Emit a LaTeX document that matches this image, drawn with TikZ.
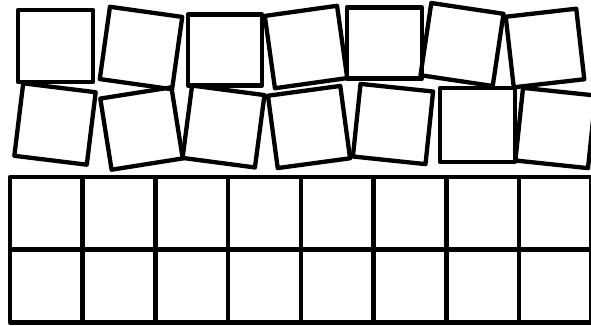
\documentclass[tikz,border=0pt]{standalone}
\usetikzlibrary{positioning}
\begin{document}
\begin{tikzpicture}[x=1pt,y=-1pt,node distance=72.7pt,every node/.style={inner sep=0pt}]
\tikzstyle{tile}=[draw,line width=4.3pt,line join=round,minimum size=73pt]
\tikzstyle{cell}=[draw,line width=4.6pt,line join=round,minimum size=72.7pt]
\useasboundingbox (0,0) rectangle (591,325);

% loose tiles, upper row
\node[tile,minimum width=75pt,minimum height=72pt](t00) at (55.5,46){};
\node[tile,rotate=-8](t01) at (141,48){};
\node[tile,minimum width=74pt,minimum height=71pt](t02) at (225,50){};
\node[tile,rotate=8](t03) at (306,47){};
\node[tile,minimum width=75pt,minimum height=71pt](t04) at (384.5,43){};
\node[tile,rotate=-8.5](t05) at (462,44.5){};
\node[tile,rotate=6.5,minimum size=71pt](t06) at (545,48){};

% loose tiles, lower row
\node[tile,rotate=-7](t10) at (55,124){};
\node[tile,rotate=9,minimum size=72pt](t11) at (141.5,128.5){};
\node[tile,rotate=-7.5](t12) at (223.5,126.5){};
\node[tile,rotate=7.7](t13) at (309,127){};
\node[tile,rotate=-6](t14) at (393,124){};
\node[tile,minimum width=75pt,minimum height=74pt](t15) at (477.5,125){};
\node[tile,rotate=-6](t16) at (555.5,128){};

% laid tiles
\node[cell](g00) at (46.35,213.35){};
\node[cell,right of=g00](g01){};
\node[cell,right of=g01](g02){};
\node[cell,right of=g02](g03){};
\node[cell,right of=g03](g04){};
\node[cell,right of=g04](g05){};
\node[cell,right of=g05](g06){};
\node[cell,right of=g06](g07){};

\node[cell,below of=g00](g10){};
\node[cell,right of=g10](g11){};
\node[cell,right of=g11](g12){};
\node[cell,right of=g12](g13){};
\node[cell,right of=g13](g14){};
\node[cell,right of=g14](g15){};
\node[cell,right of=g15](g16){};
\node[cell,right of=g16](g17){};
\end{tikzpicture}
\end{document}
